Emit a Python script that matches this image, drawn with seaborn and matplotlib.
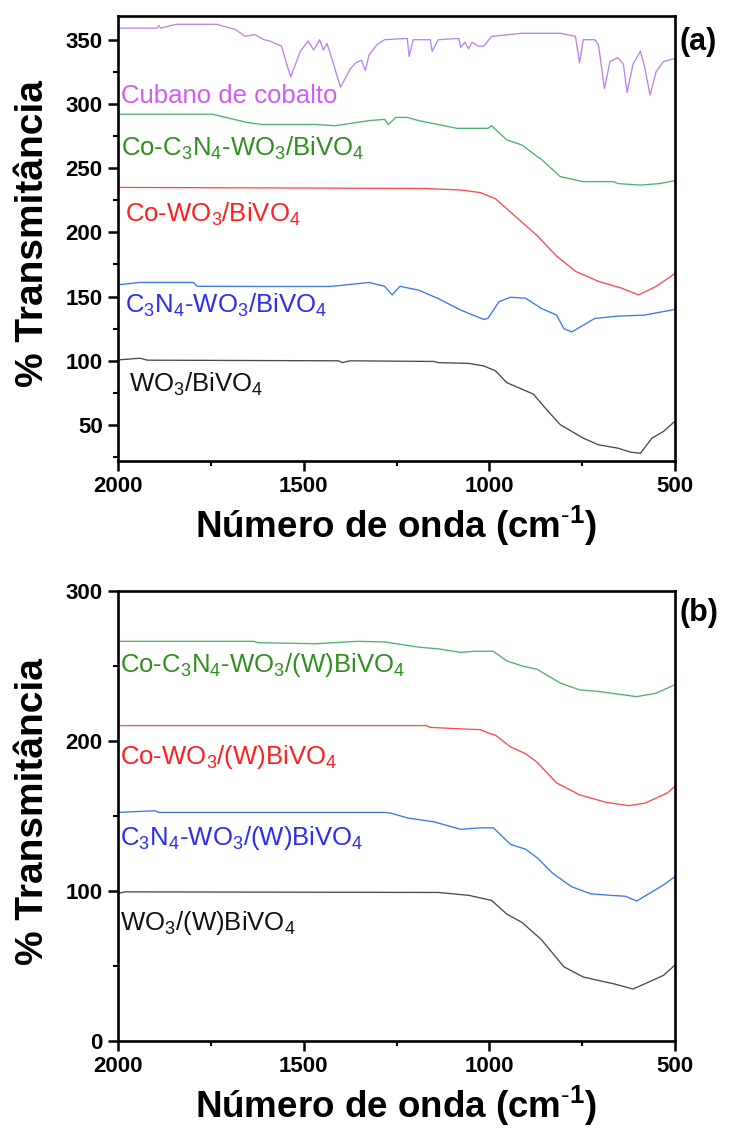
import numpy as np
import pandas as pd
import matplotlib
matplotlib.use("Agg")
import matplotlib.pyplot as plt
import seaborn as sns
from matplotlib.ticker import MultipleLocator

# ---------------- data (panel a) ----------------
a_cub_x = [2000, 1895, 1890, 1885, 1843, 1735, 1684, 1658, 1632, 1607, 1591, 1560, 1535, 1509, 1488, 1473,
           1457, 1447, 1437, 1427, 1401, 1375, 1360, 1344, 1334, 1324, 1303, 1282, 1221, 1216, 1205, 1159,
           1154, 1138, 1082, 1077, 1066, 1056, 1046, 1030, 1015, 994, 912, 809, 768, 757, 747, 716, 706,
           690, 675, 654, 639, 629, 613, 593, 582, 567, 551, 531, 500]
a_cub_y = [359, 359, 361, 359, 362, 362, 358, 352.6, 354, 350, 349, 345, 321, 341, 349, 342,
           350, 342, 347, 338, 313, 327, 332, 334, 326, 338, 346, 350, 351, 337, 350, 350,
           341, 350, 351, 344, 348, 343, 348, 345, 345, 352.6, 355, 355, 352.6, 332, 350, 350, 346,
           312, 333, 336, 331, 309, 331, 341, 329, 307, 325, 333, 335.5]

a_cocn_x = [2000, 1746, 1653, 1612, 1468, 1416, 1324, 1282, 1272, 1252, 1221, 1190, 1087, 1004, 994,
            953, 912, 871, 860, 809, 747, 665, 654, 593, 541, 500]
a_cocn_y = [292, 292, 285.6, 284, 284, 283, 287, 288, 284, 289.5, 289.5, 287, 281, 281, 283,
            272, 268, 259, 257, 243.4, 239.5, 239.5, 238, 236.8, 238, 240.3]

a_co_x = [2000, 1179, 1077, 1025, 984, 932, 871, 819, 768, 706, 644, 598, 551, 500]
a_co_y = [235, 234.2, 233, 231, 226.3, 213, 197.4, 181.6, 169.7, 161.8, 156.6, 151.3, 157.9, 168]

a_cn_x = [2000, 1941, 1797, 1787, 1632, 1427, 1324, 1282, 1262, 1241, 1190, 1138, 1077, 1015, 1004,
          974, 943, 902, 860, 819, 799, 778, 747, 716, 654, 582, 500]
a_cn_y = [159.2, 161, 161, 158, 157.9, 157.9, 161, 158, 151.3, 158, 155, 148.5, 139.5, 132.2, 133,
          146, 149.5, 148.7, 140.8, 135.6, 125, 122.5, 127.7, 133, 134.8, 135.6, 140]

a_wo_x = [2000, 1941, 1921, 1406, 1396, 1375, 1149, 1138, 1056, 1015, 984, 953, 912, 881, 850, 809,
          747, 706, 654, 618, 593, 562, 531, 500]
a_wo_y = [100.7, 102, 100.5, 100, 98.6, 100, 99.5, 98.6, 98, 96, 92.3, 83, 77.9, 74, 63.4, 50.3,
          39.8, 34.6, 32, 28.8, 28, 39.8, 45, 53]

# ---------------- data (panel b) ----------------
b_cocn_x = [2000, 1634, 1624, 1468, 1355, 1282, 1190, 1138, 1077, 1041, 990, 953, 912, 871, 809, 757,
            706, 665, 603, 551, 500]
b_cocn_y = [266.4, 266.4, 265.5, 264.8, 266.4, 266, 262.5, 261.4, 259, 259.8, 259.8, 253.4, 250, 247.7,
            238.6, 234, 233, 231.6, 229.5, 231.8, 237.5]

b_co_x = [2000, 1170, 1159, 1077, 1025, 994, 984, 943, 902, 871, 819, 757, 685, 624, 582, 551, 521, 500]
b_co_y = [210.2, 210.2, 209, 208, 207.5, 204.5, 203.9, 196, 191.4, 185.7, 172, 164, 159, 156.8, 158.4,
          161.8, 165.2, 169.8]

b_cn_x = [2000, 1900, 1890, 1282, 1262, 1221, 1149, 1077, 1025, 989, 943, 902, 871, 830, 778, 727,
          675, 634, 603, 562, 531, 500]
b_cn_y = [152.3, 153.4, 152.3, 152.3, 151.6, 148.6, 146, 141, 142, 142, 131, 127.7, 122, 111.8, 102.7, 98,
          97, 96.4, 93.2, 99.3, 103.9, 109.5]

b_wo_x = [2000, 1982, 1138, 1056, 994, 953, 912, 860, 799, 747, 706, 665, 613, 572, 531, 500]
b_wo_y = [98.2, 99.3, 98.9, 97, 93.6, 84.5, 78.9, 67.5, 49.3, 42.5, 40.2, 38, 34.5, 39, 43.6, 50.5]

# labels
a_labels = ["Cubano de cobalto",
            r"Co-C$_\mathregular{3}$N$_\mathregular{4}$-WO$_\mathregular{3}$/BiVO$_\mathregular{4}$",
            r"Co-WO$_\mathregular{3}$/BiVO$_\mathregular{4}$",
            r"C$_\mathregular{3}$N$_\mathregular{4}$-WO$_\mathregular{3}$/BiVO$_\mathregular{4}$",
            r"WO$_\mathregular{3}$/BiVO$_\mathregular{4}$"]
b_labels = [r"Co-C$_\mathregular{3}$N$_\mathregular{4}$-WO$_\mathregular{3}$/(W)BiVO$_\mathregular{4}$",
            r"Co-WO$_\mathregular{3}$/(W)BiVO$_\mathregular{4}$",
            r"C$_\mathregular{3}$N$_\mathregular{4}$-WO$_\mathregular{3}$/(W)BiVO$_\mathregular{4}$",
            r"WO$_\mathregular{3}$/(W)BiVO$_\mathregular{4}$"]
a_label_pos = [(1992, 306), (1992, 265), (1982, 214), (1982, 143), (1970, 82)]
b_label_pos = [(1994, 250.5), (1994, 189), (1994, 135.5), (1994, 78.5)]

x_ticks = [2000, 1500, 1000, 500]
a_yticks = [50, 100, 150, 200, 250, 300, 350]
b_yticks = [0, 100, 200, 300]
x_label = r"Número de onda (cm$^{\text{-}1}$)"
y_label = "% Transmitância"

# ---------------- style ----------------
sns.set_theme(style="ticks")
plt.rcParams["font.family"] = ["Liberation Sans", "DejaVu Sans"]
plt.rcParams["mathtext.fontset"] = "custom"
plt.rcParams["mathtext.rm"] = "Liberation Sans"
plt.rcParams["mathtext.bf"] = "Liberation Sans:bold"
plt.rcParams["mathtext.default"] = "regular"
for k in ["text.color", "axes.labelcolor", "xtick.color", "ytick.color", "axes.edgecolor"]:
    plt.rcParams[k] = "black"

line_cols = {"cub": "#b985ea", "cocn": "#4cb36e", "co": "#ff4a4a", "cn": "#3a78ea", "wo": "#4a4a4a"}
text_cols = ["#d35cf2", "#2f8f1f", "#ff1f1f", "#2a2ef0", "#111111"]

fig = plt.figure(figsize=(7.29, 11.31), dpi=100)
ax_a = fig.add_axes([0.1619, 0.5924, 0.764, 0.3935])
ax_b = fig.add_axes([0.1619, 0.0798, 0.764, 0.3977])


def draw(ax, xs, ys, color):
    df = pd.DataFrame({"x": xs, "y": ys})
    sns.lineplot(data=df, x="x", y="y", ax=ax, color=color, linewidth=0.95,
                 estimator=None, sort=False)


draw(ax_a, a_cub_x, a_cub_y, line_cols["cub"])
draw(ax_a, a_cocn_x, a_cocn_y, line_cols["cocn"])
draw(ax_a, a_co_x, a_co_y, line_cols["co"])
draw(ax_a, a_cn_x, a_cn_y, line_cols["cn"])
draw(ax_a, a_wo_x, a_wo_y, line_cols["wo"])

draw(ax_b, b_cocn_x, b_cocn_y, line_cols["cocn"])
draw(ax_b, b_co_x, b_co_y, line_cols["co"])
draw(ax_b, b_cn_x, b_cn_y, line_cols["cn"])
draw(ax_b, b_wo_x, b_wo_y, line_cols["wo"])

for (x, y), lab, c in zip(a_label_pos, a_labels, text_cols):
    ax_a.text(x, y, lab, color=c, fontsize=18.5, ha="left", va="center")
for (x, y), lab, c in zip(b_label_pos, b_labels, text_cols[1:]):
    ax_b.text(x, y, lab, color=c, fontsize=18.5, ha="left", va="center")

for ax, yt, ylim in [(ax_a, a_yticks, (22, 368.5)), (ax_b, b_yticks, (0, 300))]:
    ax.set_xlim(2000, 500)
    ax.set_ylim(*ylim)
    ax.set_xticks(x_ticks)
    ax.set_yticks(yt)
    ax.xaxis.set_minor_locator(MultipleLocator(250))
    ax.yaxis.set_minor_locator(MultipleLocator(25 if ax is ax_a else 50))
    ax.tick_params(which="major", direction="out", length=7, width=1.8, labelsize=16,
                   colors="black", pad=4)
    ax.tick_params(which="minor", direction="out", length=3.5, width=1.5, colors="black")
    for lab in ax.get_xticklabels() + ax.get_yticklabels():
        lab.set_fontweight("bold")
    for s in ax.spines.values():
        s.set_visible(True)
        s.set_linewidth(1.9)
        s.set_color("black")
    ax.set_xlabel(x_label, fontsize=26.5, fontweight="bold", labelpad=5, color="black")
    ax.set_ylabel(y_label, fontsize=28, fontweight="bold", color="black")
    ax.yaxis.set_label_coords(-0.12, 0.51)

fig.text(0.932, 1 - 42 / 1131, "(a)", fontsize=22, fontweight="bold", ha="left", va="center",
         color="black")
fig.text(0.932, 1 - 613 / 1131, "(b)", fontsize=22, fontweight="bold", ha="left", va="center",
         color="black")

fig.savefig("out.png", dpi=100)
